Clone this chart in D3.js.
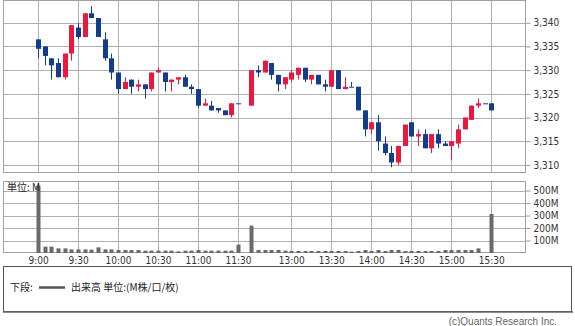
<!DOCTYPE html>
<html>
<head>
<meta charset="utf-8">
<script src="https://cdn.jsdelivr.net/npm/d3@7"></script>
<style>
    body { margin: 0; background: #fff; }
    svg { display: block; }
    .axis text { font-family: "DejaVu Sans Condensed", "DejaVu Sans", sans-serif; font-size: 10px; fill: #333; }
    .jp { font-family: "Noto Sans CJK JP", sans-serif; font-size: 10px; fill: #222; }
</style>
</head>
<body>
<svg id="chart" width="575" height="326"></svg>
<script>
// 5分足 (前場 9:00-11:30 / 後場 12:30-15:30)
var times = [
    "9:00", "9:05", "9:10", "9:15", "9:20", "9:25", "9:30", "9:35", "9:40", "9:45", "9:50", "9:55",
    "10:00", "10:05", "10:10", "10:15", "10:20", "10:25", "10:30", "10:35", "10:40", "10:45", "10:50", "10:55",
    "11:00", "11:05", "11:10", "11:15", "11:20", "11:25", "11:30",
    "12:30", "12:35", "12:40", "12:45", "12:50", "12:55",
    "13:00", "13:05", "13:10", "13:15", "13:20", "13:25", "13:30", "13:35", "13:40", "13:45", "13:50", "13:55",
    "14:00", "14:05", "14:10", "14:15", "14:20", "14:25", "14:30", "14:35", "14:40", "14:45", "14:50", "14:55",
    "15:00", "15:05", "15:10", "15:15", "15:20", "15:25", "15:30"
];
var opens = [
    3336.5, 3335, 3332.5, 3331.5, 3328.5, 3333.5, 3339, 3337, 3342, 3341, 3336.5, 3332.5,
    3329.5, 3326, 3328, 3326.5, 3327, 3326, 3329.5, 3329.5, 3327.5, 3328, 3328.5, 3326.5,
    3326, 3322.5, 3322.5, 3322, 3321.5, 3320.5, 3323,
    3322.5, 3330, 3329.5, 3331.5, 3329, 3327,
    3328, 3329, 3330.5, 3328, 3329, 3327, 3326.5, 3330, 3326, 3326.5, 3326.5, 3321.5,
    3317.5, 3319, 3314.5, 3312.5, 3310.5, 3314, 3319, 3316, 3316.5, 3313.5, 3316.5, 3314.5,
    3314, 3314.5, 3317.5, 3319.5, 3322.5, 3323, 3323
];
var highs = [
    3336.5, 3335, 3332.5, 3332.5, 3333.5, 3339.5, 3340, 3342, 3343.5, 3341, 3338, 3333.5,
    3329.5, 3328.5, 3328, 3328, 3327, 3329.5, 3330.5, 3329.5, 3328, 3328.5, 3329, 3327,
    3326, 3324, 3323.5, 3322, 3321.5, 3323, 3323,
    3330, 3331, 3332, 3331.5, 3329, 3328.5,
    3330, 3330.5, 3330.5, 3329, 3329, 3328, 3330, 3330, 3328.5, 3327.5, 3326.5, 3321.5,
    3319, 3320.5, 3316, 3314, 3314, 3318.5, 3319, 3317.5, 3317.5, 3316.5, 3317.5, 3315,
    3315, 3318.5, 3320, 3322.5, 3324, 3323, 3323
];
var lows = [
    3332.5, 3331, 3328, 3328.5, 3328, 3332, 3336.5, 3337, 3341, 3337, 3332, 3328,
    3325, 3326, 3325, 3325.5, 3324, 3325.5, 3329.5, 3325.5, 3325.5, 3327, 3326.5, 3325,
    3322, 3322.5, 3321.5, 3321, 3320.5, 3320, 3323,
    3322.5, 3328.5, 3329.5, 3328, 3325.5, 3326,
    3327.5, 3328, 3327.5, 3327, 3327, 3325.5, 3326.5, 3326, 3326, 3326.5, 3321.5, 3316,
    3316.5, 3313, 3312, 3309.5, 3310, 3314, 3316, 3314, 3313.5, 3312.5, 3313.5, 3314,
    3311, 3313.5, 3317.5, 3319.5, 3322, 3323, 3321.5
];
var closes = [
    3334.5, 3333, 3331, 3328.5, 3333.5, 3339.5, 3337, 3342, 3341, 3337, 3332.5, 3329.5,
    3326, 3327.5, 3326.5, 3327, 3326, 3329.5, 3330, 3327.5, 3328, 3328.5, 3326.5, 3326,
    3322.5, 3323, 3321.5, 3321.5, 3320.5, 3323, 3323,
    3330, 3329.5, 3332, 3329, 3327, 3328.5,
    3329.5, 3330.5, 3328, 3329, 3327, 3326.5, 3330, 3326, 3326.5, 3326.5, 3321.5, 3317.5,
    3319, 3315, 3312.5, 3310.5, 3314, 3318.5, 3316, 3316.5, 3313.5, 3316.5, 3314.5, 3314,
    3315, 3317.5, 3320, 3322.5, 3323, 3323, 3321.5
];
// 出来高 (M)
var volumes = [
    540, 51, 51, 37, 37, 29, 29, 29, 27, 45, 29, 29,
    24, 24, 24, 24, 19, 19, 19, 19, 19, 13, 19, 19,
    24, 19, 19, 19, 19, 19, 67,
    219, 24, 24, 24, 24, 19,
    16, 16, 16, 16, 16, 16, 16, 16, 16, 11, 16, 24,
    16, 24, 16, 24, 24, 16, 16, 16, 16, 16, 16, 24,
    24, 24, 24, 24, 37, 0, 312
];
var timeTicks = ["9:00", "9:30", "10:00", "10:30", "11:00", "11:30", "13:00", "13:30", "14:00", "14:30", "15:00", "15:30"];
var priceTicks = [3310, 3315, 3320, 3325, 3330, 3335, 3340];
var volumeTicks = [100, 200, 300, 400, 500];

var svg = d3.select("#chart");
var left = 3, right = 525;
var UP = "#e8183f", DOWN = "#123c8e", GRID = "#b0b0b0";

// 昼休みは2本分だけ詰める
function slot(t) {
    var p = t.split(":");
    var s = (+p[0] * 60 + +p[1] - 540) / 5;
    return s > 30 ? s - 10 : s;
}

var x = d3.scaleLinear().domain([0, 68]).range([38, 491.3]);
var y = d3.scaleLinear().domain([3308.5, 3344.7]).range([172, 0.5]);
var yv = d3.scaleLinear().domain([0, 576]).range([253, 181]);

var crisp = function (v) { return Math.round(v) + 0.5; };

function panel(top, bottom, yScale, ticks) {
    var g = svg.append("g");
    g.selectAll(".hg").data(ticks).enter().append("line")
        .attr("x1", left).attr("x2", right)
        .attr("y1", function (d) { return crisp(yScale(d)); })
        .attr("y2", function (d) { return crisp(yScale(d)); })
        .attr("stroke", GRID);
    g.selectAll(".vg").data(timeTicks).enter().append("line")
        .attr("x1", function (d) { return crisp(x(slot(d))); })
        .attr("x2", function (d) { return crisp(x(slot(d))); })
        .attr("y1", top).attr("y2", bottom)
        .attr("stroke", GRID);
    g.append("rect")
        .attr("x", left + 0.5).attr("y", top + 0.5)
        .attr("width", right - left).attr("height", bottom - top)
        .attr("fill", "none").attr("stroke", "#a0a0a0");
    return g;
}

panel(0, 172, y, priceTicks);
panel(181, 252, yv, volumeTicks);

// ローソク足
var idx = d3.range(times.length);
var candles = svg.append("g");
idx.forEach(function (i) {
    var cx = Math.round(x(slot(times[i])));
    var col = closes[i] > opens[i] ? UP : DOWN;
    candles.append("line")
        .attr("x1", cx + 0.5).attr("x2", cx + 0.5)
        .attr("y1", y(highs[i])).attr("y2", y(lows[i]))
        .attr("stroke", col);
    var top = y(Math.max(opens[i], closes[i])), bot = y(Math.min(opens[i], closes[i]));
    candles.append("rect")
        .attr("x", cx - 2).attr("width", 5)
        .attr("y", top).attr("height", Math.max(1, bot - top))
        .attr("fill", col);
});

// 出来高
svg.append("g").selectAll("rect").data(idx).enter().append("rect")
    .attr("x", function (i) { return Math.round(x(slot(times[i]))) - 1.5; })
    .attr("width", 4)
    .attr("y", function (i) { return yv(volumes[i]); })
    .attr("height", function (i) { return yv(0) - yv(volumes[i]); })
    .attr("fill", "#6a6a6a");

// 軸
var pa = svg.append("g").attr("class", "axis").attr("transform", "translate(" + (right + 0.5) + ",0)")
    .call(d3.axisRight(y).tickValues(priceTicks).tickFormat(d3.format(",")).tickSize(5).tickPadding(3));
pa.select(".domain").remove();
pa.selectAll("line").attr("stroke", "#999");

var va = svg.append("g").attr("class", "axis").attr("transform", "translate(" + (right + 0.5) + ",0)")
    .call(d3.axisRight(yv).tickValues(volumeTicks).tickFormat(function (d) { return d + "M"; }).tickSize(5).tickPadding(3));
va.select(".domain").remove();
va.selectAll("line").attr("stroke", "#999");

var ta = svg.append("g").attr("class", "axis").attr("transform", "translate(0,253)")
    .call(d3.axisBottom(x).tickValues(timeTicks.map(slot))
        .tickFormat(function (d, i) { return timeTicks[i]; })
        .tickSize(0).tickPadding(4));
ta.select(".domain").remove();

svg.append("text").attr("class", "jp").attr("x", 7).attr("y", 191).text("単位: M");

// 凡例
svg.append("rect").attr("x", 3.5).attr("y", 266.5).attr("width", 568).attr("height", 45)
    .attr("fill", "#fff").attr("stroke", "#555");
svg.append("line").attr("x1", 3).attr("x2", 573).attr("y1", 312).attr("y2", 312).attr("stroke", "#666").attr("stroke-width", 1.5);
svg.append("text").attr("class", "jp").attr("x", 10).attr("y", 291).text("下段:");
svg.append("line").attr("x1", 39).attr("x2", 65).attr("y1", 287.5).attr("y2", 287.5)
    .attr("stroke", "#555").attr("stroke-width", 2.5);
svg.append("text").attr("class", "jp").attr("x", 71).attr("y", 291).text("出来高 単位:(M株/口/枚)");

svg.append("text").attr("x", 557).attr("y", 325).attr("text-anchor", "end")
    .style("font-family", "Liberation Sans, sans-serif").style("font-size", "10px").style("fill", "#666")
    .text("(c)Quants Research Inc.");
</script>
</body>
</html>
